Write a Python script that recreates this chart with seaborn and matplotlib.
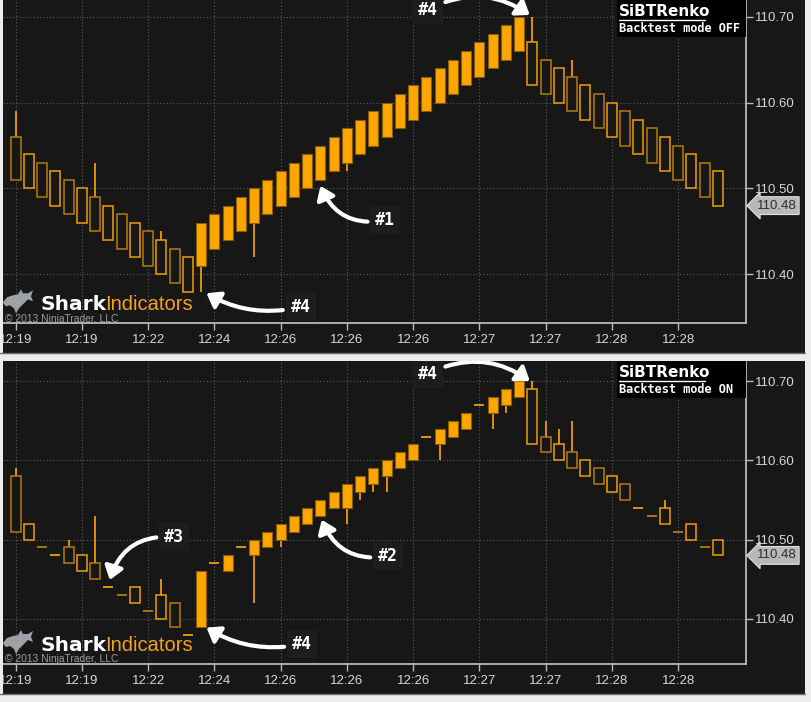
import numpy as np
import matplotlib
matplotlib.use("Agg")
import matplotlib.pyplot as plt
from matplotlib.patches import Rectangle, Polygon
import seaborn as sns

# x axis: one label every 5 bricks
time_labels = ['12:19', '12:19', '12:22', '12:24', '12:26', '12:26', '12:26',
               '12:27', '12:27', '12:28', '12:28']
label_step = 5
price_ticks = [110.40, 110.50, 110.60, 110.70]
last_price = 110.48

# top panel: Backtest mode OFF
top_open = [110.56, 110.54, 110.53, 110.52, 110.51, 110.50, 110.49, 110.48, 110.47, 110.46,
            110.45, 110.44, 110.43, 110.42, 110.41, 110.43, 110.44, 110.45, 110.46, 110.47,
            110.48, 110.49, 110.50, 110.51, 110.52, 110.53, 110.54, 110.55, 110.56, 110.57,
            110.58, 110.59, 110.60, 110.61, 110.62, 110.63, 110.64, 110.65, 110.66, 110.67,
            110.65, 110.64, 110.63, 110.62, 110.61, 110.60, 110.59, 110.58, 110.57, 110.56,
            110.55, 110.54, 110.53, 110.52]
top_close = [110.51, 110.50, 110.49, 110.48, 110.47, 110.46, 110.45, 110.44, 110.43, 110.42,
             110.41, 110.40, 110.39, 110.38, 110.46, 110.47, 110.48, 110.49, 110.50, 110.51,
             110.52, 110.53, 110.54, 110.55, 110.56, 110.57, 110.58, 110.59, 110.60, 110.61,
             110.62, 110.63, 110.64, 110.65, 110.66, 110.67, 110.68, 110.69, 110.70, 110.62,
             110.61, 110.60, 110.59, 110.58, 110.57, 110.56, 110.55, 110.54, 110.53, 110.52,
             110.51, 110.50, 110.49, 110.48]
top_high = [110.59, 110.54, 110.53, 110.52, 110.51, 110.50, 110.53, 110.48, 110.47, 110.46,
            110.45, 110.45, 110.43, 110.42, 110.46, 110.47, 110.48, 110.49, 110.50, 110.51,
            110.52, 110.53, 110.54, 110.55, 110.56, 110.57, 110.58, 110.59, 110.60, 110.61,
            110.62, 110.63, 110.64, 110.65, 110.66, 110.67, 110.68, 110.69, 110.70, 110.70,
            110.65, 110.64, 110.65, 110.62, 110.61, 110.60, 110.59, 110.58, 110.57, 110.56,
            110.55, 110.54, 110.53, 110.52]
top_low = [110.51, 110.50, 110.49, 110.48, 110.47, 110.46, 110.45, 110.44, 110.43, 110.42,
           110.41, 110.40, 110.39, 110.38, 110.38, 110.43, 110.44, 110.45, 110.42, 110.47,
           110.48, 110.49, 110.50, 110.51, 110.52, 110.52, 110.54, 110.55, 110.56, 110.57,
           110.58, 110.59, 110.60, 110.61, 110.62, 110.63, 110.64, 110.65, 110.66, 110.62,
           110.61, 110.60, 110.59, 110.58, 110.57, 110.56, 110.55, 110.54, 110.53, 110.52,
           110.51, 110.50, 110.49, 110.48]

# bottom panel: Backtest mode ON
bot_open = [110.58, 110.52, 110.49, 110.48, 110.49, 110.48, 110.47, 110.44, 110.43, 110.44,
            110.41, 110.43, 110.42, 110.38, 110.39, 110.47, 110.46, 110.49, 110.48, 110.49,
            110.50, 110.51, 110.52, 110.53, 110.54, 110.54, 110.56, 110.57, 110.58, 110.59,
            110.60, 110.63, 110.62, 110.63, 110.64, 110.67, 110.66, 110.67, 110.68, 110.69,
            110.63, 110.62, 110.61, 110.60, 110.59, 110.58, 110.57, 110.54, 110.53, 110.54,
            110.51, 110.52, 110.49, 110.50]
bot_close = [110.51, 110.50, 110.49, 110.48, 110.47, 110.46, 110.45, 110.44, 110.43, 110.42,
             110.41, 110.40, 110.39, 110.38, 110.46, 110.47, 110.48, 110.49, 110.50, 110.51,
             110.52, 110.53, 110.54, 110.55, 110.56, 110.57, 110.58, 110.59, 110.60, 110.61,
             110.62, 110.63, 110.64, 110.65, 110.66, 110.67, 110.68, 110.69, 110.70, 110.62,
             110.61, 110.60, 110.59, 110.58, 110.57, 110.56, 110.55, 110.54, 110.53, 110.52,
             110.51, 110.50, 110.49, 110.48]
bot_high = [110.59, 110.52, 110.49, 110.48, 110.50, 110.48, 110.53, 110.44, 110.43, 110.44,
            110.41, 110.45, 110.42, 110.38, 110.46, 110.47, 110.48, 110.49, 110.50, 110.51,
            110.52, 110.53, 110.54, 110.55, 110.56, 110.57, 110.58, 110.59, 110.60, 110.61,
            110.62, 110.63, 110.64, 110.65, 110.66, 110.67, 110.68, 110.69, 110.70, 110.70,
            110.65, 110.64, 110.65, 110.60, 110.59, 110.58, 110.57, 110.54, 110.53, 110.55,
            110.51, 110.52, 110.49, 110.50]
bot_low = [110.51, 110.50, 110.49, 110.48, 110.47, 110.46, 110.45, 110.44, 110.43, 110.42,
           110.41, 110.40, 110.39, 110.38, 110.39, 110.47, 110.46, 110.49, 110.42, 110.49,
           110.49, 110.51, 110.52, 110.53, 110.54, 110.52, 110.55, 110.56, 110.56, 110.59,
           110.60, 110.63, 110.60, 110.63, 110.64, 110.67, 110.64, 110.66, 110.68, 110.62,
           110.61, 110.60, 110.59, 110.58, 110.57, 110.56, 110.55, 110.54, 110.53, 110.52,
           110.51, 110.50, 110.49, 110.48]

# callouts: label, text position (bar, price), arrow tip (bar, price), curvature
top_callouts = [('#4', (31.1, 110.708), (38.8, 110.702), -0.3),
                ('#1', (27.9, 110.463), (23.0, 110.503), -0.4),
                ('#4', (21.5, 110.362), (14.4, 110.378), -0.2)]
bot_callouts = [('#4', (31.1, 110.709), (38.8, 110.700), -0.3),
                ('#2', (28.1, 110.479), (23.1, 110.525), -0.4),
                ('#3', (11.95, 110.503), (7.1, 110.449), 0.4),
                ('#4', (21.6, 110.368), (14.4, 110.389), -0.2)]

BG = '#171717'
ORANGE = '#ffa500'
ORANGE_DIM = '#b67b0c'
AXIS = '#b8b8b8'
TXT = '#d3d7db'
W, H = 811, 702

sns.set_theme(style='dark', rc={'axes.facecolor': BG, 'figure.facecolor': BG,
                                'savefig.facecolor': BG})
plt.rcParams['font.family'] = ['Liberation Sans', 'DejaVu Sans']

fig = plt.figure(figsize=(W / 100, H / 100), dpi=100)


def px_box(x0, y0, x1, y1):
    # pixel box (from top-left) -> figure fraction rect
    return [x0 / W, 1 - y1 / H, (x1 - x0) / W, (y1 - y0) / H]


ax_top = fig.add_axes(px_box(3, 0, 745.7, 323.3))
ax_bot = fig.add_axes(px_box(3, 362, 745.7, 664))


def draw_renko(ax, o, c, h, l):
    o, c, h, l = map(np.asarray, (o, c, h, l))
    x = np.arange(len(o))
    lo, hi = np.minimum(o, c), np.maximum(o, c)
    m = h > hi + 1e-9
    ax.vlines(x[m], hi[m], h[m], color=ORANGE, lw=1.2, zorder=2)
    m = l < lo - 1e-9
    ax.vlines(x[m], l[m], lo[m], color=ORANGE, lw=1.2, zorder=2)
    up = c > o + 1e-9
    dn = c < o - 1e-9
    dj = ~(up | dn)
    ax.bar(x[up], (c - o)[up], bottom=o[up], width=0.75, color=ORANGE,
           edgecolor='#8a5c00', lw=0.8, zorder=3)
    edge = np.where(x % 2 == 0, ORANGE_DIM, '#f09e06')
    ax.bar(x[dn], (o - c)[dn], bottom=c[dn], width=0.75, facecolor=BG,
           edgecolor=list(edge[dn]), lw=1.1, zorder=3)
    ax.hlines(o[dj], x[dj] - 0.375, x[dj] + 0.375, color=list(edge[dj]), lw=1.3, zorder=3)


def style_axes(ax, ylim):
    ax.set_xlim(-0.96, 55.1)
    ax.set_ylim(*ylim)
    ax.set_xticks(np.arange(0, label_step * len(time_labels), label_step))
    ax.set_xticklabels(time_labels)
    ax.yaxis.tick_right()
    ax.set_yticks(price_ticks)
    ax.set_yticklabels([f'{v:.2f}' for v in price_ticks])
    ax.grid(True, color='#5c5c5c', ls=(0, (1, 2)), lw=0.8)
    for s in ['top', 'left']:
        ax.spines[s].set_visible(False)
    for s in ['bottom', 'right']:
        ax.spines[s].set_visible(True)
        ax.spines[s].set_color(AXIS)
        ax.spines[s].set_linewidth(1.3)
    ax.tick_params(axis='both', which='both', direction='out', length=5, width=1,
                   color=AXIS, labelcolor=TXT, labelsize=9.5, pad=3,
                   bottom=True, right=True, left=False)
    ax.tick_params(axis='y', pad=1.5)
    ax.set_xlabel('')
    ax.set_ylabel('')
    # last price tag
    ax.text(1.0145, last_price, f'{last_price:.2f}', transform=ax.get_yaxis_transform(),
            ha='left', va='center', fontsize=9.5, color='#2a2e33', clip_on=False,
            bbox=dict(boxstyle='larrow,pad=0.22', fc='#b8b8b8', ec='#e0e0e0', lw=0.8))


def add_callouts(ax, callouts):
    for label, txy, tip, rad in callouts:
        ax.annotate(label, xy=tip, xytext=txy, color='white', fontsize=12,
                    fontweight='bold', family='DejaVu Sans Mono', ha='center', va='center',
                    bbox=dict(boxstyle='square,pad=0.3', fc='#1d1d1d', ec='none'),
                    arrowprops=dict(arrowstyle='-|>,head_length=0.55,head_width=0.4',
                                    color='white', lw=3, mutation_scale=14,
                                    connectionstyle=f'arc3,rad={rad}',
                                    shrinkA=2, shrinkB=0),
                    zorder=6, annotation_clip=False)


def add_branding(y_base):
    # y_base: pixel y of the x axis line of the panel
    fy = lambda y: 1 - (y_base + y) / H
    # rough leaping shark silhouette (logo)
    shark = [(3, -21), (7, -26), (13, -28), (18, -29), (21, -34), (23, -30), (28, -30),
             (33, -33), (31, -27), (33, -22), (28, -24), (24, -20), (19, -15), (16, -10),
             (14, -15), (10, -18), (6, -17), (4, -19)]
    fig.patches.append(Polygon([(x / W, fy(y)) for x, y in shark], closed=True,
                               transform=fig.transFigure, fc='#9ea2a7', ec='none'))
    fig.text(40 / W, fy(-13), 'Shark', color='white', fontsize=14.5,
             fontweight='bold', family='DejaVu Sans', va='baseline', ha='left')
    fig.text(105 / W, fy(-13), 'Indicators', color='#f4a11d', fontsize=14.5,
             va='baseline', ha='left')
    fig.text(5 / W, fy(-1.8), '\u00a9 2013 NinjaTrader, LLC', color='#9c9c9c',
             fontsize=7.4, va='baseline', ha='left')


def add_title(y_top, mode):
    fig.patches.append(Rectangle(px_box(617, y_top, 745.7, y_top + 37)[:2],
                                 128.7 / W, 37 / H, transform=fig.transFigure,
                                 fc='black', ec='none', zorder=5))
    fig.text(619 / W, 1 - (y_top + 16) / H, 'SiBTRenko', color='white', fontsize=11,
             fontweight='bold', family='DejaVu Sans', va='baseline', zorder=6)
    fig.lines.append(plt.Line2D([619 / W, 705 / W], [1 - (y_top + 19.5) / H] * 2,
                                transform=fig.transFigure, color='white', lw=1, zorder=6))
    fig.text(619 / W, 1 - (y_top + 32) / H, f'Backtest mode {mode}', color='white',
             fontsize=8.6, fontweight='bold', family='DejaVu Sans Mono', va='baseline',
             zorder=6)


draw_renko(ax_top, top_open, top_close, top_high, top_low)
draw_renko(ax_bot, bot_open, bot_close, bot_high, bot_low)
style_axes(ax_top, (110.343, 110.7194))
style_axes(ax_bot, (110.343, 110.724))
add_callouts(ax_top, top_callouts)
add_callouts(ax_bot, bot_callouts)
add_branding(323.3)
add_branding(664)
add_title(0, 'OFF')
add_title(361, 'ON')

# light window frame strips
for box in [px_box(0, 0, 3, H), px_box(0, 353, W, 360.5), px_box(0, 694, W, H),
            px_box(805, 0, W, H)]:
    fig.patches.append(Rectangle(box[:2], box[2], box[3], transform=fig.transFigure,
                                 fc='#ececec', ec='none', zorder=0))
for yy in [352.5, 694]:
    fig.lines.append(plt.Line2D([0, 805 / W], [1 - yy / H] * 2, transform=fig.transFigure,
                                color='#6a6a6a', lw=1))

fig.savefig('out.png', dpi=100, facecolor=BG)
